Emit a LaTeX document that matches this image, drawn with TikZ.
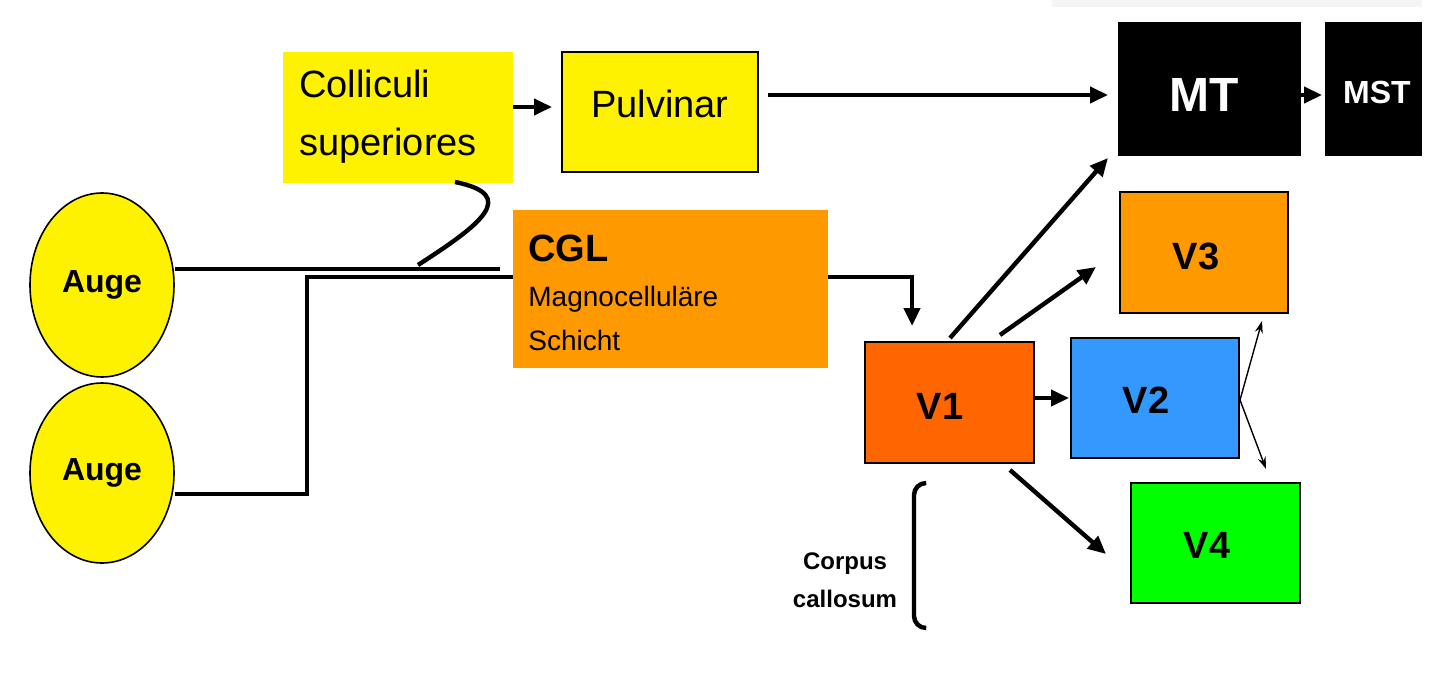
\documentclass[tikz,border=0pt]{standalone}
\usepackage{fontspec}
\setmainfont{Liberation Sans}
\usetikzlibrary{arrows.meta,shapes.geometric}
\begin{document}
\begin{tikzpicture}[x=0.5pt,y=-0.5pt,
  ln/.style={line width=2.2pt},
  ar/.style={ln,-{Triangle[length=9pt,width=8pt]}},
  tar/.style={line width=0.7pt,-{Stealth[length=6pt,width=4pt]}},
  bt/.style={font=\bfseries\fontsize{19}{21}\selectfont}]
\useasboundingbox (0,0) rectangle (1444,690);
\fill[gray!8] (1052,0) rectangle (1422,7);
% eyes
\node[draw,fill=yellow,line width=0.8pt,ellipse,minimum width=72pt,minimum height=92pt,inner sep=0pt,font=\bfseries\fontsize{16}{18}\selectfont] (a1) at (102,285) {Auge};
\node[draw,fill=yellow,line width=0.8pt,ellipse,minimum width=72pt,minimum height=90pt,inner sep=0pt,font=\bfseries\fontsize{16}{18}\selectfont] (a2) at (102,473) {Auge};
% boxes
\path[fill=yellow] (283,52) rectangle (513,183);
\node[anchor=north west,align=left,font=\fontsize{19}{29}\selectfont,inner sep=0pt] (col) at (299,70) {Colliculi\\superiores};
\path[draw,fill=yellow,line width=0.8pt] (562,52) rectangle (758,172);
\node[font=\fontsize{19}{21}\selectfont] (pul) at (660,104) {Pulvinar};
\fill[black] (1118,22) rectangle (1301,156);
\node[white,font=\bfseries\fontsize{24}{26}\selectfont] (mt) at (1204,95) {MT};
\fill[black] (1325,22) rectangle (1422,156);
\node[white,font=\bfseries\fontsize{16}{18}\selectfont] (mst) at (1377,92) {MST};
\fill[fill={rgb,255:red,255;green,153;blue,0}] (513,210) rectangle (828,368);
\node[anchor=west,font=\bfseries\fontsize{19}{21}\selectfont,inner sep=0pt] (cgl) at (528,248) {CGL};
\node[anchor=north west,align=left,font=\fontsize{14}{22}\selectfont,inner sep=0pt] (cgltxt) at (528,286) {Magnocelluläre\\Schicht};
\draw[fill={rgb,255:red,255;green,102;blue,0},line width=0.8pt] (865,342) rectangle (1034,463);
\node[bt] (v1) at (940,406) {V1};
\draw[fill={rgb,255:red,255;green,153;blue,0},line width=0.8pt] (1120,192) rectangle (1288,313);
\node[bt] (v3) at (1196,256) {V3};
\draw[fill={rgb,255:red,51;green,153;blue,255},line width=0.8pt] (1071,338) rectangle (1239,458);
\node[bt] (v2) at (1146,400) {V2};
\draw[fill={rgb,255:red,0;green,255;blue,0},line width=0.8pt] (1131,483) rectangle (1300,603);
\node[bt] (v4) at (1207,545) {V4};
% lines
\draw[ln] (175,269) -- (500,269);
\draw[ln] (175,494) -- (307,494) -- (307,277) -- (513,277);
\draw[ln] (455,182) .. controls (520,195) and (480,225) .. (418,265);
\draw[ar] (513,107) -- (552,107);
\draw[ar] (768,95) -- (1108,95);
\draw[ar] (1301,95) -- (1322,95);
\draw[ar] (828,277) -- (912,277) -- (912,326);
\draw[ar] (950,338) -- (1108,158);
\draw[ar] (1000,335) -- (1096,267);
\draw[ar] (1034,398) -- (1069,398);
\draw[ar] (1010,470) -- (1106,554);
\draw[tar] (1240,400) -- (1262,321);
\draw[tar] (1240,400) -- (1266,469);
% brace
\draw[ln,rounded corners=6pt] (925,483) -- (914,483) -- (914,628) -- (925,628);
\node[align=center,font=\bfseries\fontsize{12}{19}\selectfont] (cc) at (845,580) {Corpus\\callosum};
\end{tikzpicture}
\end{document}
